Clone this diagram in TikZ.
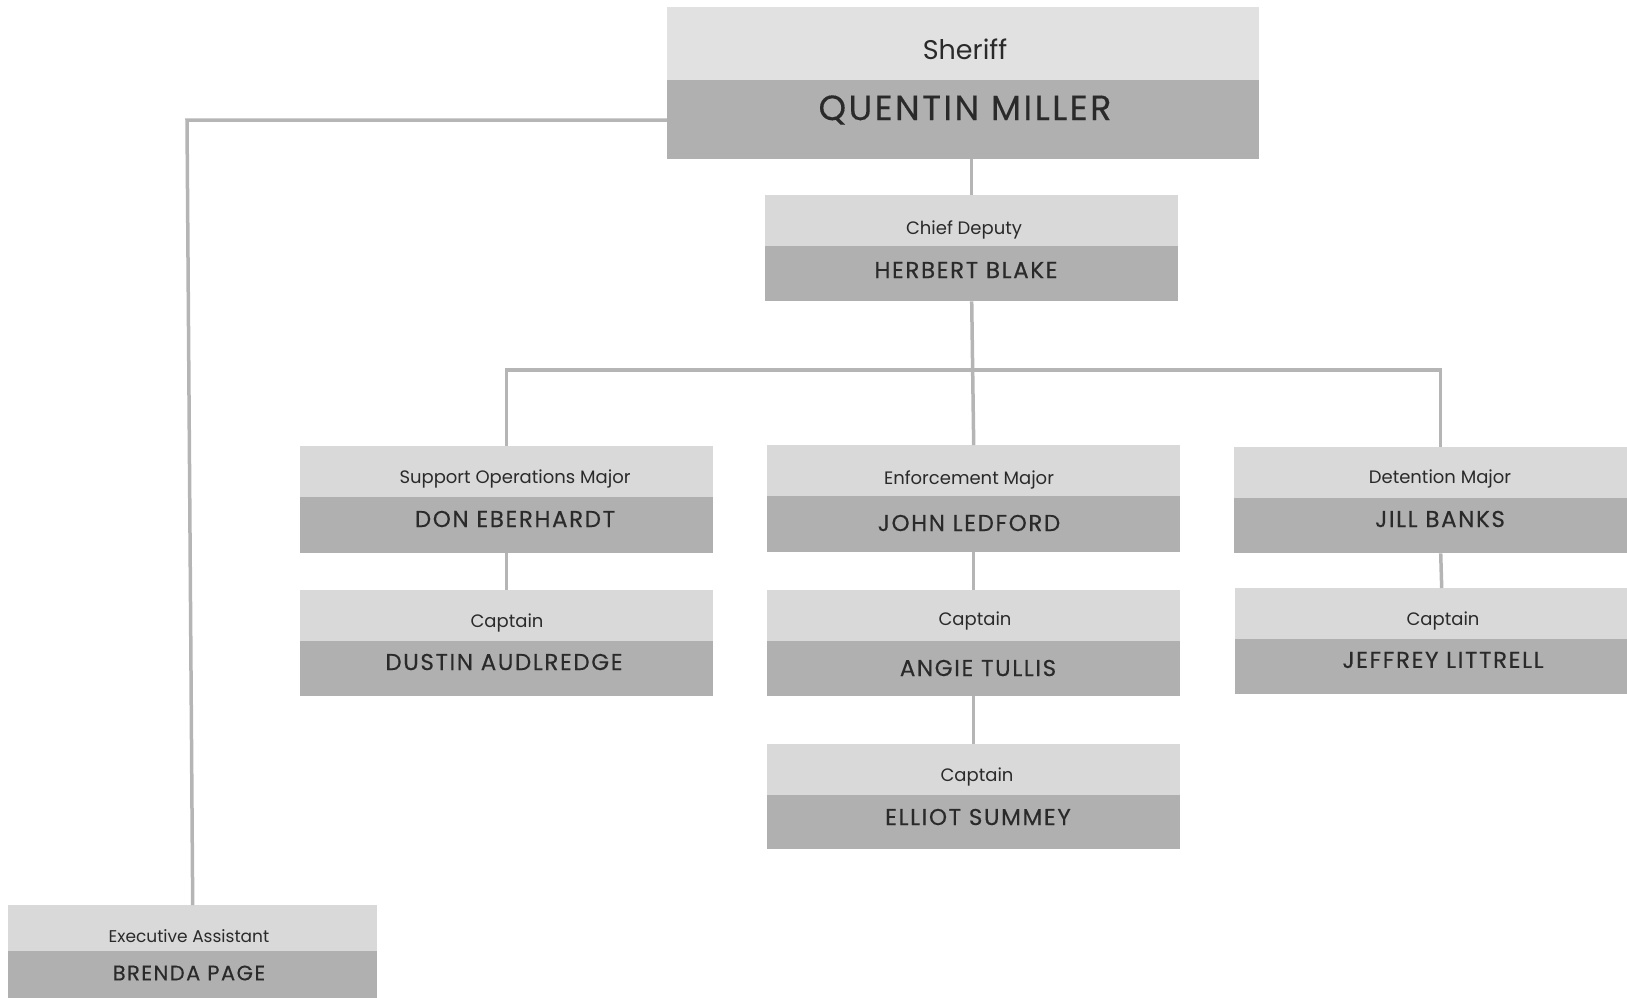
\documentclass[tikz,border=0pt]{standalone}
\usepackage{fontspec}
\setmainfont{Poppins}
\newfontfamily\namefont[LetterSpace=7,FakeBold=0.3]{Poppins}
\begin{document}
\begin{tikzpicture}[x=1pt,y=-1pt,
  lightbox/.style={fill=boxlight,draw=none,inner sep=0,anchor=north west},
  darkbox/.style={fill=boxdark,draw=none,inner sep=0,anchor=north west},
  ttl/.style={text=txt,inner sep=0,font=\fontsize{18}{20}\selectfont,yshift=-2pt},
  nm/.style={text=txt,inner sep=0,font=\namefont\fontsize{23}{26}\selectfont},
  conn/.style={draw=linec,line width=3.5pt}]
\definecolor{boxlight}{HTML}{D9D9D9}
\definecolor{boxdark}{HTML}{B0B0B0}
\definecolor{linec}{HTML}{B5B5B5}
\definecolor{txt}{HTML}{2A2A2A}
\useasboundingbox (0,0) rectangle (1627,997);
\clip (0,0) rectangle (1627,997);
% Sheriff
\node[lightbox,fill=boxlight!80!white!99,minimum width=592pt,minimum height=73pt] (sherT) at (667,7) {};
\node[darkbox,minimum width=592pt,minimum height=79pt] (sherN) at (667,80) {};
\node[ttl,font=\fontsize{27}{30}\selectfont,yshift=2pt] (sherTt) at (965,49) {Sheriff};
\node[nm,font=\namefont\fontsize{35}{40}\selectfont] (sherNt) at (965,110) {QUENTIN MILLER};
% Chief Deputy
\node[lightbox,minimum width=413pt,minimum height=51pt] (chiefT) at (765,195) {};
\node[darkbox,minimum width=413pt,minimum height=55pt] (chiefN) at (765,246) {};
\node[ttl] (chiefTt) at (964,228) {Chief Deputy};
\node[nm] (chiefNt) at (966,270) {HERBERT BLAKE};
% Support Operations Major
\node[lightbox,minimum width=413pt,minimum height=51pt] (supT) at (300,446) {};
\node[darkbox,minimum width=413pt,minimum height=56pt] (supN) at (300,497) {};
\node[ttl] (supTt) at (515,477) {Support Operations Major};
\node[nm] (supNt) at (515,519) {DON EBERHARDT};
% Captain Dustin
\node[lightbox,minimum width=413pt,minimum height=51pt] (dusT) at (300,590) {};
\node[darkbox,minimum width=413pt,minimum height=55pt] (dusN) at (300,641) {};
\node[ttl] (dusTt) at (507,621) {Captain};
\node[nm] (dusNt) at (504,662) {DUSTIN AUDLREDGE};
% Enforcement Major
\node[lightbox,minimum width=413pt,minimum height=51pt] (enfT) at (767,445) {};
\node[darkbox,minimum width=413pt,minimum height=56pt] (enfN) at (767,496) {};
\node[ttl] (enfTt) at (969,478) {Enforcement Major};
\node[nm] (enfNt) at (969,523) {JOHN LEDFORD};
% Captain Angie
\node[lightbox,minimum width=413pt,minimum height=51pt] (angT) at (767,590) {};
\node[darkbox,minimum width=413pt,minimum height=55pt] (angN) at (767,641) {};
\node[ttl] (angTt) at (975,619) {Captain};
\node[nm] (angNt) at (978,668) {ANGIE TULLIS};
% Captain Elliot
\node[lightbox,minimum width=413pt,minimum height=51pt] (ellT) at (767,744) {};
\node[darkbox,minimum width=413pt,minimum height=54pt] (ellN) at (767,795) {};
\node[ttl] (ellTt) at (977,775) {Captain};
\node[nm] (ellNt) at (978,817) {ELLIOT SUMMEY};
% Detention Major
\node[lightbox,minimum width=413pt,minimum height=51pt] (detT) at (1234,447) {};
\node[darkbox,minimum width=413pt,minimum height=55pt] (detN) at (1234,498) {};
\node[ttl] (detTt) at (1440,477) {Detention Major};
\node[nm] (detNt) at (1440,519) {JILL BANKS};
% Captain Jeffrey
\node[lightbox,minimum width=413pt,minimum height=51pt] (jefT) at (1235,588) {};
\node[darkbox,minimum width=413pt,minimum height=55pt] (jefN) at (1235,639) {};
\node[ttl] (jefTt) at (1443,619) {Captain};
\node[nm] (jefNt) at (1443,660) {JEFFREY LITTRELL};
% Executive Assistant
\node[lightbox,minimum width=369pt,minimum height=46pt] (exeT) at (8,905) {};
\node[darkbox,minimum width=369pt,minimum height=50pt] (exeN) at (8,951) {};
\node[ttl,font=\fontsize{17}{20}\selectfont] (exeTt) at (189,934) {Executive Assistant};
\node[nm,font=\namefont\fontsize{21}{24}\selectfont] (exeNt) at (189,973) {BRENDA PAGE};
% connectors
\coordinate (bus) at (0,370);
\coordinate (exeCorner) at (187,120);
\draw[conn] (chiefT.north) -- (chiefT.north |- sherN.south);
\draw[conn] (chiefN.south) -- (enfT.north);
\draw[conn] (supT.north) -- (supT.north |- bus) -- (detT.north |- bus) -- (detT.north);
\draw[conn] (supN.south) -- (dusT.north);
\draw[conn] (enfN.south) -- (angT.north);
\draw[conn] (angN.south) -- (ellT.north);
\draw[conn] (detN.south) -- (jefT.north);
\draw[conn] (sherN.west |- exeCorner) -- (exeCorner) -- (exeT.north);
\end{tikzpicture}
\end{document}
